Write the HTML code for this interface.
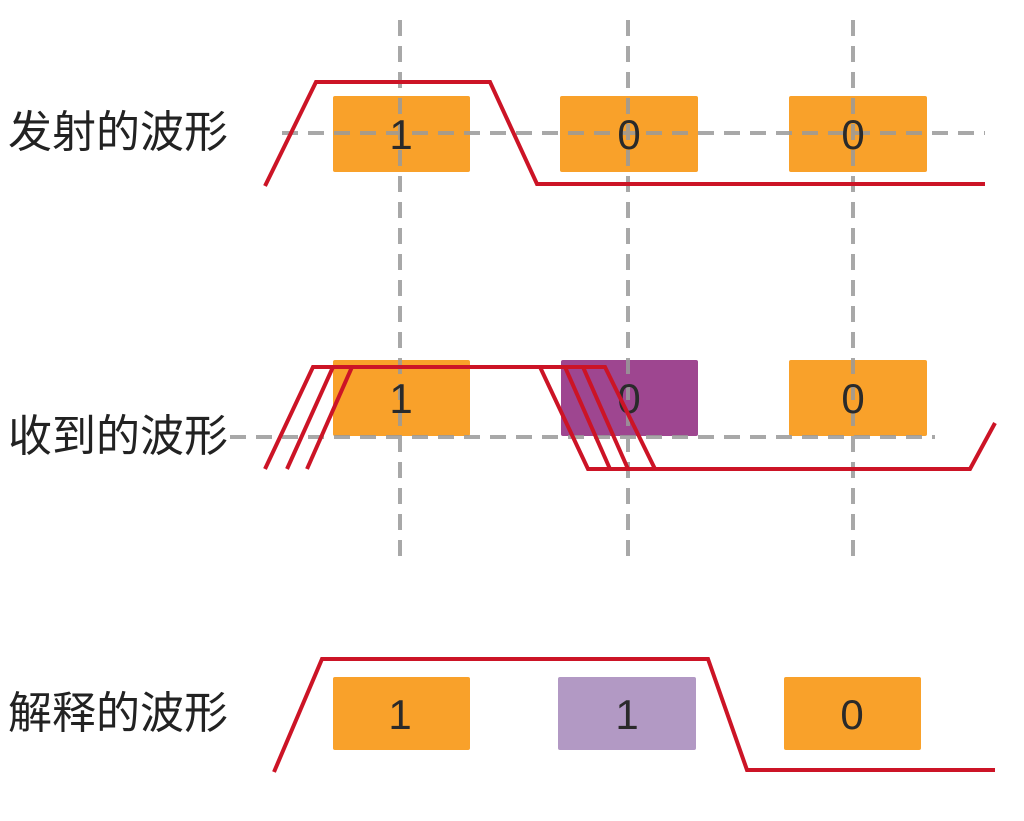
<!DOCTYPE html>
<html><head><meta charset="utf-8"><style>
html,body{margin:0;padding:0;background:#fff;}
svg{display:block;}
text{font-family:"Liberation Sans","Noto Sans CJK SC",sans-serif;}
</style></head><body>
<svg width="1024" height="821" viewBox="0 0 1024 821" xmlns="http://www.w3.org/2000/svg">
<rect width="1024" height="821" fill="#fff"/>
<g fill="#f9a12a">
<rect x="333" y="96" width="137" height="76" rx="2"/>
<rect x="560" y="96" width="138" height="76" rx="2"/>
<rect x="789" y="96" width="138" height="76" rx="2"/>
<rect x="333" y="360" width="137" height="76" rx="2"/>
<rect x="789" y="360" width="138" height="76" rx="2"/>
<rect x="333" y="677" width="137" height="73" rx="2"/>
<rect x="784" y="677" width="137" height="73" rx="2"/>
</g>
<rect x="561" y="360" width="137" height="76" rx="2" fill="#9e4690"/>
<rect x="558" y="677" width="138" height="73" rx="2" fill="#b299c4"/>
<g stroke="#9a9a9a" stroke-width="4" stroke-dasharray="16,10" opacity="0.85">
<line x1="400" y1="20" x2="400" y2="556"/>
<line x1="628" y1="20" x2="628" y2="556"/>
<line x1="853" y1="20" x2="853" y2="556"/>
<line x1="282" y1="133" x2="985" y2="133"/>
<line x1="230" y1="437" x2="935" y2="437"/>
</g>
<g font-size="42" fill="#2a2a2a" text-anchor="middle">
<text x="401" y="149" transform="translate(0,0)">1</text><text x="629" y="149">0</text><text x="853" y="149">0</text>
<text x="401" y="413">1</text><text x="629" y="413">0</text><text x="853" y="413">0</text>
<text x="400" y="729">1</text><text x="627" y="729">1</text><text x="852" y="729">0</text>
</g>
<g fill="none" stroke="#cc1426" stroke-width="4" stroke-linejoin="miter">
<polyline points="265,186 316,82 490,82 537,184 985,184"/>
<polyline points="265,469 313,367 605,367 655,469"/>
<polyline points="287,469 333,367"/>
<polyline points="307,469 352,367"/>
<polyline points="540,367 588,469 970,469 995,423"/>
<polyline points="565,367 610,469"/>
<polyline points="583,367 628,469"/>
<polyline points="274,772 322,659 708,659 747,770 995,770"/>
</g>
<g font-size="44" fill="#222">
<text x="8" y="147">发射的波形</text>
<text x="8" y="451">收到的波形</text>
<text x="8" y="728">解释的波形</text>
</g>
</svg>
</body></html>
